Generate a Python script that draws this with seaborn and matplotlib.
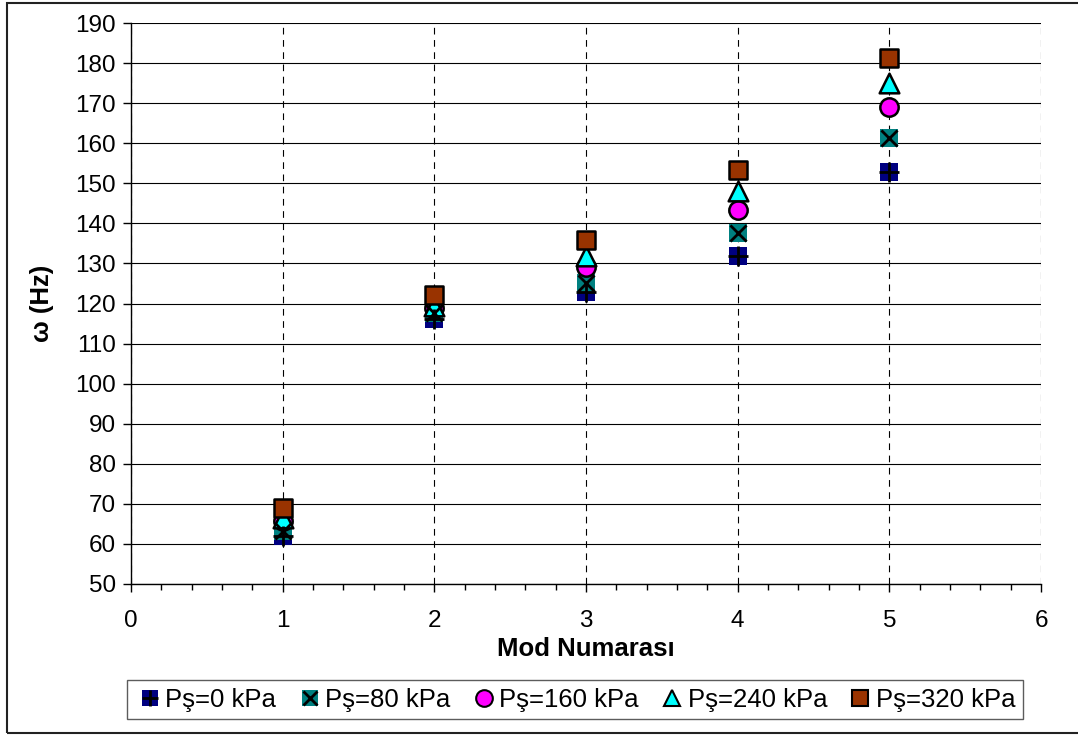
import matplotlib
matplotlib.use("Agg")
import matplotlib.pyplot as plt
from matplotlib.patches import Rectangle
from matplotlib.ticker import MultipleLocator
import pandas as pd
import seaborn as sns

# Natural frequencies per mode for each internal pressure level
modes = [1, 2, 3, 4, 5]
ps_0 = [62.0, 116.1, 122.9, 131.9, 152.7]
ps_80 = [63.2, 117.6, 125.1, 137.6, 161.4]
ps_160 = [65.7, 118.9, 129.2, 143.3, 169.0]
ps_240 = [66.5, 119.5, 131.9, 148.1, 175.0]
ps_320 = [69.0, 122.1, 135.8, 153.3, 181.3]

series_labels = ["Pş=0 kPa", "Pş=80 kPa", "Pş=160 kPa", "Pş=240 kPa", "Pş=320 kPa"]
series_values = [ps_0, ps_80, ps_160, ps_240, ps_320]
colors = ["#000080", "#008080", "#FF00FF", "#00FFFF", "#993300"]
markers = ["s", "s", "o", "^", "s"]
edges = ["none", "none", "black", "black", "black"]
overlays = ["+", "x", None, None, None]

sns.set_theme(style="white")
plt.rcParams["font.family"] = ["Liberation Sans", "DejaVu Sans"]
plt.rcParams["text.color"] = "black"
plt.rcParams["axes.labelcolor"] = "black"

fig = plt.figure(figsize=(10.78, 7.35), dpi=100)
ax = fig.add_axes([131 / 1078, 1 - 584 / 735, 910 / 1078, 561 / 735])

handles = []
for label, vals, col, mk, ec, ov in zip(series_labels, series_values, colors,
                                         markers, edges, overlays):
    df = pd.DataFrame({"mode": modes, "freq": vals})
    size = 200 if mk == "^" else 175
    sns.scatterplot(data=df, x="mode", y="freq", ax=ax, marker=mk, s=size,
                    color=col, edgecolor=ec if ec != "none" else col,
                    linewidth=1.8 if ec != "none" else 0, zorder=3,
                    clip_on=False, legend=False)
    base = plt.Line2D([], [], ls="", marker=mk, markersize=12,
                      markerfacecolor=col,
                      markeredgecolor=ec if ec != "none" else col,
                      markeredgewidth=1.5 if ec != "none" else 0)
    if ov is not None:
        sns.scatterplot(data=df, x="mode", y="freq", ax=ax, marker=ov,
                        s=200 if ov == "+" else 135, color="black",
                        linewidth=2.0, zorder=4, clip_on=False, legend=False)
        top = plt.Line2D([], [], ls="", marker=ov,
                         markersize=12 if ov == "+" else 10,
                         color="black", markeredgewidth=2.0)
        handles.append((base, top))
    else:
        handles.append(base)

ax.set_xlim(0, 6)
ax.set_ylim(50, 190)
ax.xaxis.set_major_locator(MultipleLocator(1))
ax.xaxis.set_minor_locator(MultipleLocator(0.2))
ax.yaxis.set_major_locator(MultipleLocator(10))

# Solid horizontal grid, dashed vertical grid
ax.grid(axis="y", which="major", color="black", linewidth=0.8, linestyle="-")
ax.grid(axis="x", which="major", color="black", linewidth=0.8,
        linestyle=(0, (6, 5)))
ax.set_axisbelow(True)

for side in ["top", "right"]:
    ax.spines[side].set_visible(False)
for side in ["left", "bottom"]:
    ax.spines[side].set_color("black")
    ax.spines[side].set_linewidth(1.0)

ax.tick_params(axis="both", which="major", direction="out", length=6,
               width=1, color="black", labelsize=17.5, labelcolor="black",
               left=True, bottom=True, pad=5)
ax.tick_params(axis="x", which="major", pad=13)
ax.tick_params(axis="x", which="minor", direction="out", length=4,
               width=1, color="black", bottom=True)

ax.set_xlabel("Mod Numarası", fontsize=18.5, fontweight="bold", labelpad=3,
              color="black")
ax.set_ylabel("ω (Hz)", fontsize=18.5, fontweight="bold", labelpad=15,
              color="black")

leg = fig.legend(handles, series_labels, loc="center",
                 bbox_to_anchor=(575 / 1078, 1 - 699.5 / 735), ncol=5,
                 fontsize=18.5, frameon=True, fancybox=False,
                 handletextpad=0.0, columnspacing=0.7, handlelength=1.2,
                 borderpad=0.3, borderaxespad=0)
leg.get_frame().set_edgecolor("#333333")
leg.get_frame().set_linewidth(1.0)
for t in leg.get_texts():
    t.set_color("black")

# Chart area border
fig.patches.append(Rectangle((7 / 1078, 1 - 733 / 735), 1.1, 730 / 735,
                             transform=fig.transFigure, fill=False,
                             edgecolor="#222222", linewidth=1.5,
                             clip_on=True))

fig.savefig("out.png", dpi=100)
